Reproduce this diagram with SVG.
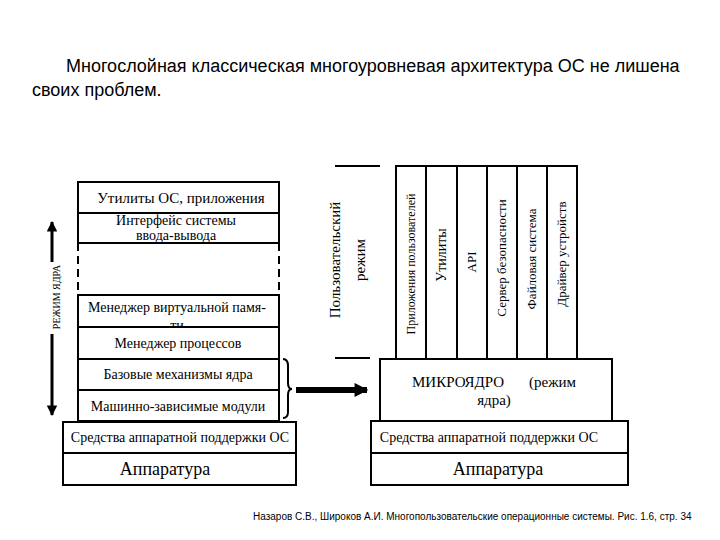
<svg xmlns="http://www.w3.org/2000/svg" width="720" height="540" viewBox="0 0 720 540">
<defs>
<style>
.t{font-family:"Liberation Sans",Arial,sans-serif;fill:#000}
.s{font-family:"Liberation Serif","Times New Roman",serif;fill:#000}
.b{fill:#fff;stroke:#000;stroke-width:2}
.ln{stroke:#000;stroke-width:2;fill:none}
.d{stroke:#000;stroke-width:2;stroke-dasharray:8,5;fill:none}
</style>
<marker id="ah" viewBox="0 0 10 10" refX="9" refY="5" markerWidth="4" markerHeight="3.5" orient="auto" markerUnits="strokeWidth">
<path d="M0,0 L10,5 L0,10 z" fill="#000"/>
</marker>
<marker id="ah2" viewBox="0 0 10 10" refX="9" refY="5" markerWidth="3" markerHeight="2.3" orient="auto" markerUnits="strokeWidth">
<path d="M0,0 L10,5 L0,10 z" fill="#000"/>
</marker>
</defs>
<rect width="720" height="540" fill="#fff"/>
<text class="t" x="66" y="72" font-size="18">Многослойная классическая многоуровневая архитектура ОС не лишена</text>
<text class="t" x="32" y="96" font-size="18">своих проблем.</text>

<g id="left-stack">
<g id="l-util"><rect class="b" x="78" y="182" width="201" height="31"/><text class="s" x="181" y="203" font-size="15" text-anchor="middle">Утилиты ОС, приложения</text></g>
<g id="l-io"><rect class="b" x="78" y="213" width="201" height="30"/><text class="s" x="176" y="225" font-size="14" text-anchor="middle">Интерфейс системы</text><text class="s" x="176" y="240" font-size="14" text-anchor="middle">ввода-вывода</text></g>
<g id="l-gap"><line class="d" x1="78" y1="243" x2="78" y2="295"/><line class="d" x1="279" y1="243" x2="279" y2="295"/></g>
<g id="l-vm"><text class="s" x="177" y="312" font-size="14" text-anchor="middle">Менеджер виртуальной памя-</text><text class="s" x="177" y="330" font-size="14" text-anchor="middle">ти</text><rect x="78" y="295" width="201" height="32" fill="none" stroke="#000" stroke-width="2"/></g>
<g id="l-proc"><rect class="b" x="78" y="327" width="201" height="32"/><text class="s" x="178" y="348" font-size="14" text-anchor="middle">Менеджер процессов</text></g>
<g id="l-base"><rect class="b" x="78" y="359" width="201" height="31"/><text class="s" x="178" y="379" font-size="14" text-anchor="middle">Базовые механизмы ядра</text></g>
<g id="l-mach"><rect class="b" x="78" y="390" width="201" height="31"/><text class="s" x="178" y="411" font-size="14" text-anchor="middle">Машинно-зависимые модули</text></g>
<g id="l-hw-sup"><rect class="b" x="63" y="422" width="233" height="31"/><text class="s" x="180" y="442" font-size="14" text-anchor="middle">Средства аппаратной поддержки ОС</text></g>
<g id="l-hw"><rect class="b" x="63" y="453" width="233" height="32"/><text class="s" x="165" y="475" font-size="18" text-anchor="middle">Аппаратура</text></g>
<g id="kernel-mode"><text class="s" x="60" y="297" font-size="10" text-anchor="middle" transform="rotate(-90 60 297)">РЕЖИМ ЯДРА</text></g>
</g>

<g id="right-stack">
<g id="user-mode"><line class="ln" x1="335" y1="166" x2="380" y2="166"/><line class="ln" x1="335" y1="358" x2="370" y2="358"/>
<text class="s" x="340" y="260" font-size="15" text-anchor="middle" transform="rotate(-90 340 260)">Пользовательский</text>
<text class="s" x="365" y="260" font-size="15" text-anchor="middle" transform="rotate(-90 365 260)">режим</text></g>
<g id="c-apps"><rect class="b" x="396" y="166" width="30" height="193"/><text class="s" x="415" y="264" font-size="12" text-anchor="middle" transform="rotate(-90 415 264)">Приложения пользователей</text></g>
<g id="c-util"><rect class="b" x="426" y="166" width="31" height="193"/><text class="s" x="446" y="255" font-size="14" text-anchor="middle" transform="rotate(-90 446 255)">Утилиты</text></g>
<g id="c-api"><rect class="b" x="457" y="166" width="30" height="193"/><text class="s" x="476" y="262" font-size="13" text-anchor="middle" transform="rotate(-90 476 262)">API</text></g>
<g id="c-sec"><rect class="b" x="487" y="166" width="30" height="193"/><text class="s" x="506" y="258" font-size="13" text-anchor="middle" transform="rotate(-90 506 258)">Сервер безопасности</text></g>
<g id="c-fs"><rect class="b" x="517" y="166" width="30" height="193"/><text class="s" x="536" y="259" font-size="13" text-anchor="middle" transform="rotate(-90 536 259)">Файловая система</text></g>
<g id="c-drv"><rect class="b" x="547" y="166" width="30" height="193"/><text class="s" x="566" y="254" font-size="13" text-anchor="middle" transform="rotate(-90 566 254)">Драйвер устройств</text></g>
<g id="r-micro"><rect class="b" x="380" y="359" width="232" height="62"/><text class="s" x="412" y="387" font-size="15">МИКРОЯДРО</text><text class="s" x="529" y="387" font-size="15">(режим</text><text class="s" x="494" y="405" font-size="15" text-anchor="middle">ядра)</text></g>
<g id="r-hw-sup"><rect class="b" x="371" y="421" width="257" height="32"/><text class="s" x="489" y="442" font-size="14" text-anchor="middle">Средства аппаратной поддержки ОС</text></g>
<g id="r-hw"><rect class="b" x="371" y="453" width="257" height="32"/><text class="s" x="498" y="475" font-size="18" text-anchor="middle">Аппаратура</text></g>
</g>

<g id="connectors">
<line x1="52" y1="262" x2="52" y2="222" stroke="#000" stroke-width="3" marker-end="url(#ah)"/>
<line x1="52" y1="334" x2="52" y2="415" stroke="#000" stroke-width="3" marker-end="url(#ah)"/>
<path class="ln" d="M283,359 Q288,359 288,366 L288,383 Q288,389 292,389 Q288,389 288,395 L288,412 Q288,418 283,418" stroke-width="1.5"/>
<line x1="296" y1="390" x2="367" y2="390" stroke="#000" stroke-width="6" marker-end="url(#ah2)"/>
</g>

<text class="t" x="253" y="520" font-size="10" fill="#222">Назаров С.В., Широков А.И. Многопользовательские операционные системы. Рис. 1.6, стр. 34</text>
</svg>
